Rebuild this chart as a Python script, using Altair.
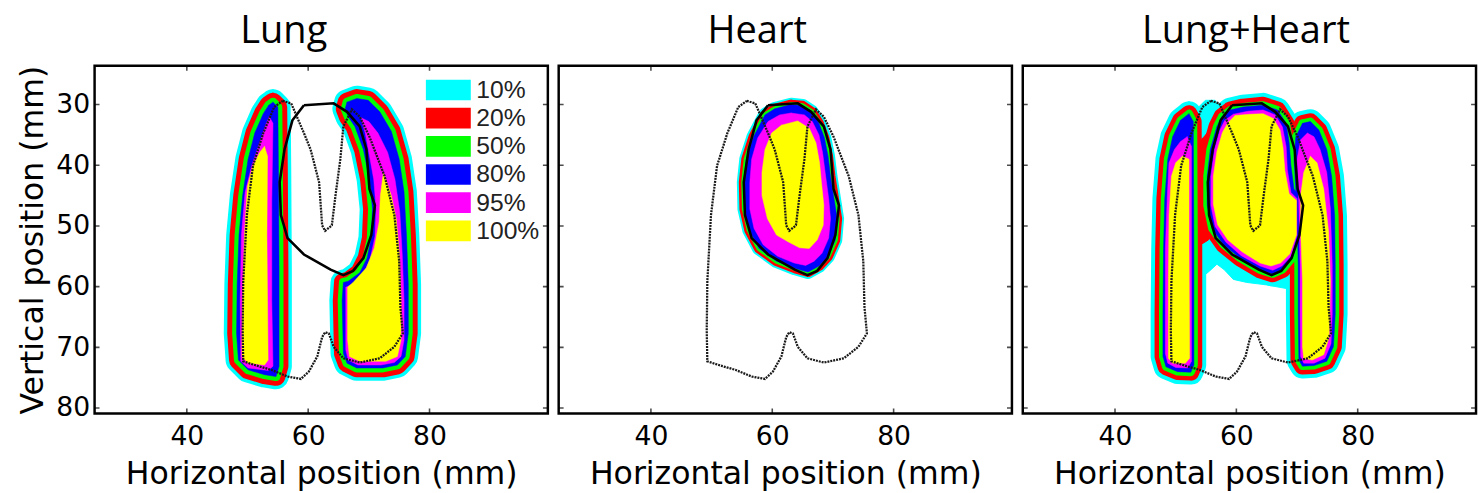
import altair as alt
import pandas as pd

# ---------------- axes / labels ----------------
X_DOMAIN = [24.8, 99.5]
Y_DOMAIN = [23.6, 80.9]
X_TICKS = [40, 60, 80]
Y_TICKS = [30, 40, 50, 60, 70, 80]
PANEL_TITLES = ["Lung", "Heart", "Lung+Heart"]
X_TITLE = "Horizontal position (mm)"
Y_TITLE = "Vertical position (mm)"

LEVEL_LABELS = ["10%", "20%", "50%", "80%", "95%", "100%"]
LEVEL_COLORS = ["#00FFFF", "#FF0000", "#00FF00", "#0000FF", "#FF00FF", "#FFFF00"]

# ---------------- anatomy outlines (mm) ----------------
LUNG_OUTLINE = [(55.8, 29.4), (57.2, 29.8), (59.3, 34.7), (60.4, 37.4), (61.8, 42.8), (62.3, 49.9),
                (62.8, 50.8), (63.9, 49.9), (64.5, 45.0), (65.3, 39.0), (65.8, 33.6), (67.2, 30.8),
                (68.5, 32.0), (70.1, 35.3), (72.6, 41.8), (74.2, 48.2), (75.0, 55.8), (75.2, 63.4),
                (75.6, 67.7), (74.2, 69.9), (71.8, 71.8), (68.5, 72.5), (65.8, 71.8), (64.2, 69.9),
                (63.4, 67.7), (62.8, 67.5), (62.3, 68.3), (61.5, 71.5), (60.1, 74.0), (58.8, 75.2),
                (56.6, 74.8), (53.9, 73.7), (51.8, 73.1), (49.3, 72.3), (49.2, 67.2), (49.3, 59.1),
                (49.9, 48.2), (50.9, 40.1), (52.6, 34.7), (54.4, 30.4)]
HEART_OUTLINE = [(59.3, 30.1), (64.2, 29.8), (66.4, 31.2), (68.5, 33.6), (69.6, 37.4), (70.1, 43.9),
                 (71.0, 46.6), (70.4, 51.5), (69.1, 55.3), (67.4, 57.4), (65.8, 58.1), (63.7, 57.2),
                 (59.3, 54.7), (56.6, 52.0), (55.5, 48.2), (55.3, 42.8), (56.1, 37.4), (57.4, 32.6)]

# ---------------- panel 1: Lung ----------------
P1_LEFT_80 = [(54.2, 29.6), (55.0, 30.4), (55.1, 40.7), (55.2, 56.9), (55.2, 73.1), (54.7, 74.8),
              (52.8, 74.5), (50.1, 73.7), (48.5, 72.1), (48.2, 67.7), (48.3, 59.6), (48.6, 51.5),
              (49.2, 45.0), (50.1, 39.0), (51.2, 34.7), (52.6, 31.5), (53.5, 30.1)]
P1_LEFT_95 = [(53.6, 32.0), (54.2, 33.1), (54.0, 46.1), (54.0, 62.3), (54.2, 73.1), (53.4, 73.8),
              (50.1, 73.4), (48.9, 72.3), (48.8, 62.3), (49.0, 51.5), (49.6, 44.5), (50.7, 40.1),
              (52.0, 36.3), (53.1, 33.1)]
P1_LEFT_100 = [(52.8, 36.9), (53.3, 38.5), (53.2, 51.5), (53.3, 62.3), (53.4, 72.1), (52.8, 72.9),
               (50.1, 72.6), (49.1, 71.5), (49.2, 62.3), (49.5, 51.5), (50.0, 43.4), (50.9, 40.1),
               (52.0, 37.9)]
P1_RIGHT_80 = [(66.4, 29.6), (68.0, 29.0), (69.9, 29.3), (71.8, 31.2), (73.7, 34.4), (75.0, 39.0),
               (75.8, 44.4), (76.2, 51.5), (76.5, 59.6), (76.5, 67.7), (76.0, 71.5), (74.7, 72.9),
               (72.3, 73.4), (68.0, 73.4), (66.4, 72.6), (65.8, 71.0), (65.6, 62.3), (65.8, 59.3),
               (66.6, 59.1), (68.5, 57.7), (69.7, 55.3), (70.4, 52.0), (70.6, 47.2), (70.1, 42.3),
               (69.1, 37.4), (67.7, 33.6), (66.6, 32.0), (66.1, 30.7)]
P1_RIGHT_95 = [(68.8, 32.2), (70.0, 32.8), (71.5, 34.7), (73.1, 37.9), (74.3, 42.3), (75.1, 47.7),
               (75.5, 54.7), (75.8, 62.3), (75.8, 68.8), (75.3, 71.5), (74.2, 72.5), (72.0, 72.9),
               (68.2, 72.9), (66.6, 72.1), (66.2, 70.4), (66.2, 60.1), (67.2, 59.6), (68.9, 58.3),
               (70.2, 55.5), (71.0, 51.8), (71.2, 47.2), (70.8, 42.3), (70.0, 37.9), (69.4, 34.7),
               (68.9, 33.0)]
P1_RIGHT_100 = [(72.4, 41.2), (73.7, 45.0), (74.5, 48.8), (75.0, 54.2), (75.3, 62.3), (75.3, 68.8),
                (74.7, 71.5), (72.8, 72.3), (68.5, 72.3), (66.8, 71.5), (66.5, 68.8), (66.5, 60.1),
                (67.4, 59.3), (69.6, 56.9), (70.9, 53.6), (71.7, 49.3), (71.9, 45.0)]

# ---------------- panel 2: Heart ----------------
P2_HEART_80 = [(63.1, 30.0), (65.0, 30.2), (66.5, 31.2), (67.7, 33.1), (68.6, 35.5), (69.2, 38.5),
               (69.6, 41.8), (70.1, 45.0), (70.7, 48.8), (70.4, 52.3), (69.2, 55.0), (67.7, 56.6),
               (65.9, 57.6), (63.8, 57.0), (60.7, 55.8), (57.8, 53.7), (56.2, 50.7), (55.4, 47.2),
               (55.3, 42.8), (55.7, 39.0), (56.9, 35.3), (58.8, 31.7), (60.4, 30.7)]
P2_HEART_95 = [(63.1, 31.4), (65.3, 31.7), (66.6, 32.8), (67.7, 35.0), (68.3, 38.0), (68.8, 41.8),
               (69.3, 45.5), (69.6, 48.8), (69.3, 52.0), (68.2, 54.5), (66.9, 55.8), (65.5, 56.5),
               (63.6, 56.1), (60.9, 55.0), (58.5, 53.1), (57.0, 50.4), (56.3, 47.2), (56.3, 42.8),
               (56.6, 39.0), (57.6, 35.5), (59.3, 32.8), (61.2, 31.7)]
P2_HEART_100 = [(61.5, 33.4), (64.2, 32.7), (66.1, 33.9), (67.2, 36.3), (67.8, 39.6), (68.1, 42.8),
                (68.5, 46.6), (68.4, 49.9), (67.4, 52.3), (66.1, 53.7), (64.5, 53.6), (62.6, 52.6),
                (60.7, 51.5), (59.2, 48.8), (58.3, 45.0), (58.3, 41.2), (58.8, 37.4), (59.9, 34.7)]

# ---------------- panel 3: Lung+Heart ----------------
P3_LEFT_80 = [(52.2, 31.5), (52.9, 32.8), (53.0, 53.7), (53.0, 72.9), (52.5, 74.1), (50.3, 74.0),
              (48.4, 73.2), (47.9, 71.5), (47.9, 64.5), (48.0, 53.7), (48.2, 45.5), (48.7, 39.0),
              (49.5, 35.3), (50.8, 32.6)]
P3_LEFT_95 = [(51.9, 35.3), (52.6, 36.9), (52.6, 53.7), (52.6, 72.3), (52.0, 73.4), (50.0, 73.3),
              (48.7, 72.6), (48.3, 71.0), (48.3, 53.7), (48.6, 45.5), (48.9, 39.6), (49.8, 37.4),
              (50.8, 36.1)]
P3_LEFT_100 = [(51.1, 38.5), (52.2, 39.0), (52.2, 53.7), (52.3, 71.8), (51.6, 72.6), (49.5, 72.6),
               (48.8, 71.8), (48.8, 59.1), (48.9, 48.3), (49.3, 41.8), (50.0, 39.6)]
P3_HEART_80 = [(59.0, 30.9), (61.1, 30.4), (64.4, 30.1), (66.8, 30.9), (68.2, 33.1), (68.7, 36.3),
               (69.0, 40.1), (69.5, 43.9), (70.3, 45.0), (70.3, 51.5), (69.2, 55.3), (67.6, 57.2),
               (66.0, 57.9), (63.8, 57.2), (60.6, 55.3), (57.9, 53.1), (56.0, 50.4), (55.2, 46.6),
               (55.2, 41.8), (55.7, 37.4), (56.8, 33.6), (57.6, 32.0)]
P3_HEART_95 = [(59.5, 31.6), (61.9, 31.1), (64.4, 30.9), (66.4, 31.7), (67.6, 33.7), (68.2, 36.9),
               (68.4, 40.7), (69.0, 44.5), (70.0, 45.5), (70.0, 51.5), (69.0, 55.0), (67.5, 56.6),
               (66.0, 57.3), (63.9, 56.6), (60.8, 54.9), (58.3, 52.7), (56.5, 50.1), (55.8, 46.6),
               (55.8, 41.8), (56.4, 37.4), (57.3, 34.2), (58.1, 32.6)]
P3_HEART_100 = [(59.8, 31.8), (62.2, 31.6), (64.4, 31.5), (66.1, 32.3), (67.2, 34.2), (67.7, 37.2),
                (68.0, 40.9), (68.7, 44.7), (69.9, 45.8), (69.9, 51.5), (68.8, 54.6), (67.3, 56.1),
                (65.7, 56.6), (63.9, 56.1), (61.0, 54.3), (58.6, 52.3), (56.9, 49.8), (56.2, 46.4),
                (56.2, 41.8), (56.8, 37.7), (57.7, 34.6), (58.6, 33.0)]
P3_RIGHT_80 = [(70.9, 33.1), (72.2, 32.8), (73.6, 34.2), (74.9, 37.4), (75.7, 41.8), (76.2, 48.3),
               (76.3, 56.4), (76.3, 64.5), (76.0, 69.9), (74.9, 72.3), (72.8, 73.0), (70.9, 73.1),
               (70.3, 72.1), (70.2, 64.5), (70.2, 56.4), (70.0, 48.3), (69.8, 43.9), (69.5, 39.0),
               (69.8, 35.3)]
P3_RIGHT_95 = [(71.7, 34.7), (72.8, 35.3), (73.8, 37.4), (74.9, 41.2), (75.5, 47.2), (75.8, 56.4),
               (75.8, 64.5), (75.6, 69.4), (74.6, 71.8), (72.8, 72.6), (71.1, 72.6), (70.6, 71.5),
               (70.5, 64.5), (70.5, 56.4), (70.3, 47.2), (70.2, 42.8), (70.0, 39.0), (70.6, 35.8)]
P3_RIGHT_100 = [(72.2, 38.5), (73.3, 39.6), (74.4, 43.9), (75.2, 50.9), (75.5, 59.1), (75.3, 68.3),
                (74.4, 71.2), (72.5, 72.1), (71.1, 71.8), (70.9, 69.9), (70.9, 59.1), (70.6, 50.9),
                (70.6, 45.0), (71.1, 41.2)]
P3_CYAN_REGION = [(53.5, 30.7), (54.9, 29.3), (56.5, 29.3), (57.6, 31.2), (56.8, 37.4), (56.2, 45.5),
                  (57.3, 51.5), (60.6, 54.7), (64.9, 57.5), (68.7, 56.4), (70.0, 55.8), (70.0, 59.9),
                  (68.2, 60.3), (64.9, 59.7), (61.7, 59.3), (59.5, 58.8), (58.0, 57.2), (56.8, 56.3),
                  (55.6, 57.4), (54.3, 58.5), (53.5, 55.8)]
P3_RED_REGION = [(53.6, 36.3), (54.6, 35.4), (55.6, 34.2), (56.5, 33.7), (56.8, 36.3), (56.4, 42.8),
                 (56.1, 48.3), (56.5, 50.4), (55.4, 52.3), (54.1, 53.1), (53.5, 51.5)]

PANEL_W, PANEL_H = 460, 353
TITLE_CENTERS = [191.5, 201, 226]  # title centre, px from each panel's left edge


def poly_frame(polys):
    rows = []
    for name, pts in polys.items():
        closed = list(pts) + [pts[0]]
        for i, (x, y) in enumerate(closed):
            rows.append({"shape": name, "seq": i, "x": x, "y": y})
    return pd.DataFrame(rows)


def make_panel(idx, p80, p95, p100, widths, extra10=None, extra20=None, show_y=False, legend=False):
    g, r, c = widths
    xs = alt.Scale(domain=X_DOMAIN, nice=False, zero=False)
    ys = alt.Scale(domain=Y_DOMAIN, reverse=True, nice=False, zero=False)
    xax = alt.Axis(values=X_TICKS, labelPadding=10, tickSize=0, titlePadding=10)
    yax = alt.Axis(values=Y_TICKS, labelPadding=5, tickSize=0, titlePadding=6) if show_y else None
    top_ax = alt.Axis(orient="top", title=PANEL_TITLES[idx], labels=False, ticks=False, tickSize=0,
                      domain=False, grid=False, titleFont="Open Sans", titleFontSize=38.5,
                      titleFontWeight="normal", titleColor="black", titleBaseline="alphabetic",
                      titlePadding=24, titleX=TITLE_CENTERS[idx], titleAlign="center")

    def X(f):
        return alt.X(f, scale=xs, axis=xax, title=X_TITLE)

    def Y(f):
        return alt.Y(f, scale=ys, axis=yax, title=Y_TITLE)

    def poly_layer(polys, fill, sw):
        return alt.Chart(poly_frame(polys)).mark_line(
            fill=fill, stroke=fill, strokeWidth=sw, strokeJoin="round", strokeCap="round", clip=True
        ).encode(x=X("x:Q"), y=Y("y:Q"), detail="shape:N", order="seq:Q")

    layers = []
    layers.append(poly_layer(p80, LEVEL_COLORS[0], 2 * (g + r + c)))
    if extra10:
        layers.append(poly_layer(extra10, LEVEL_COLORS[0], 1))
    layers.append(poly_layer(p80, LEVEL_COLORS[1], 2 * (g + r)))
    if extra20:
        layers.append(poly_layer(extra20, LEVEL_COLORS[1], 1))
    layers.append(poly_layer(p80, LEVEL_COLORS[2], 2 * g))
    layers.append(poly_layer(p80, LEVEL_COLORS[3], 0.5))
    layers.append(poly_layer(p95, LEVEL_COLORS[4], 0.5))
    layers.append(poly_layer(p100, LEVEL_COLORS[5], 0.5))

    lung = poly_frame({"lung": LUNG_OUTLINE})
    heart = poly_frame({"heart": HEART_OUTLINE})
    layers.append(alt.Chart(lung).mark_line(color="#1a1a1a", strokeWidth=2.3, strokeDash=[2, 1], clip=True)
                  .encode(x=X("x:Q"), y=Y("y:Q"), order="seq:Q"))
    layers.append(alt.Chart(heart).mark_line(color="black", strokeWidth=2.6, clip=True)
                  .encode(x=X("x:Q"), y=Y("y:Q"), order="seq:Q"))

    # inward ticks on left/right sides
    yt = pd.DataFrame([{"tx": e, "ty": t} for t in Y_TICKS for e in X_DOMAIN])
    layers.append(alt.Chart(yt).mark_tick(orient="horizontal", size=10, thickness=1.6, color="black", clip=True)
                  .encode(x=X("tx:Q"), y=Y("ty:Q")))

    if legend:
        lx0, lx1, ly0, step, h, tx = 79.4, 86.8, 27.6, 4.64, 3.4, 87.7
        leg = pd.DataFrame({"label": LEVEL_LABELS, "color": LEVEL_COLORS})
        leg["x0"] = lx0
        leg["x1"] = lx1
        leg["yc"] = [ly0 + step * i for i in range(len(LEVEL_LABELS))]
        leg["y0"] = leg["yc"] - h / 2
        leg["y1"] = leg["yc"] + h / 2
        leg["tx"] = tx
        cs = alt.Scale(domain=LEVEL_LABELS, range=LEVEL_COLORS)
        layers.append(alt.Chart(leg).mark_rect().encode(
            x=X("x0:Q"), x2="x1:Q", y=Y("y0:Q"), y2="y1:Q",
            color=alt.Color("label:N", scale=cs, legend=None)))
        layers.append(alt.Chart(leg).mark_text(align="left", baseline="middle", font="Liberation Sans",
                                               fontSize=25, color="#222222").encode(
            x=X("tx:Q"), y=Y("yc:Q"), text="label:N"))

    content = alt.layer(*layers)

    # inward ticks on top/bottom sides; this layer also carries the panel title (top axis)
    xt = pd.DataFrame([{"tx": t, "ty": e} for t in X_TICKS for e in Y_DOMAIN])
    title_layer = alt.Chart(xt).mark_tick(orient="vertical", size=10, thickness=1.6, color="black",
                                          clip=True).encode(
        x=alt.X("tx:Q", scale=xs, axis=top_ax), y=Y("ty:Q"))

    return alt.layer(content, title_layer).resolve_axis(x="independent").properties(
        width=PANEL_W, height=PANEL_H)


p1 = make_panel(0, {"L": P1_LEFT_80, "R": P1_RIGHT_80}, {"L": P1_LEFT_95, "R": P1_RIGHT_95},
                {"L": P1_LEFT_100, "R": P1_RIGHT_100}, (4.5, 5, 3.5), show_y=True, legend=True)
p2 = make_panel(1, {"H": P2_HEART_80}, {"H": P2_HEART_95}, {"H": P2_HEART_100}, (2.5, 2.5, 2))
p3 = make_panel(2, {"L": P3_LEFT_80, "H": P3_HEART_80, "R": P3_RIGHT_80},
                {"L": P3_LEFT_95, "H": P3_HEART_95, "R": P3_RIGHT_95},
                {"L": P3_LEFT_100, "H": P3_HEART_100, "R": P3_RIGHT_100}, (4, 4.5, 4),
                extra10={"c": P3_CYAN_REGION}, extra20={"r": P3_RED_REGION})

chart = alt.hconcat(p1, p2, p3, spacing=7).resolve_scale(x="independent", y="independent").configure_view(
    stroke="black", strokeWidth=2.5
).configure_axis(
    labelFont="DejaVu Sans", labelFontSize=27, labelColor="black",
    titleFont="DejaVu Sans", titleFontSize=32, titleFontWeight="normal", titleColor="black",
    domain=False, ticks=False, grid=False,
).properties(
    padding={"left": 16, "top": 6, "right": 0, "bottom": 0},
    background="white",
)

chart.save("out.html", embed_options={"renderer": "svg", "actions": False})
